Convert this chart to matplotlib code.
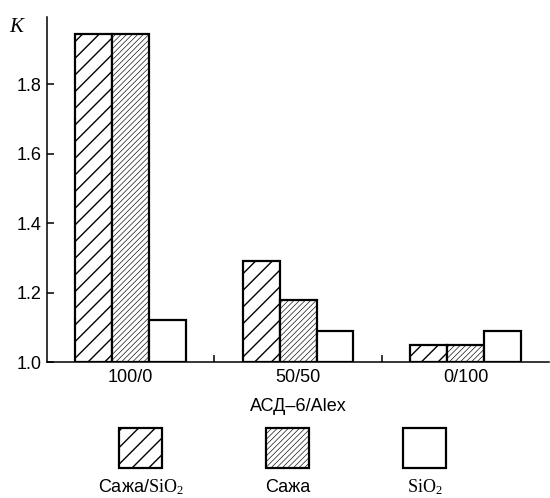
import matplotlib
matplotlib.use("Agg")
import matplotlib.pyplot as plt
from matplotlib.patches import Rectangle
import numpy as np

categories = ["100/0", "50/50", "0/100"]
series_names = ["Сажа/$\\mathrm{SiO}_2$", "Сажа", "$\\mathrm{SiO}_2$"]
soot_sio2 = [1.945, 1.29, 1.05]
soot = [1.945, 1.18, 1.05]
sio2 = [1.12, 1.09, 1.09]
yticks = [1.0, 1.2, 1.4, 1.6, 1.8]

plt.rcParams['font.family'] = ['Liberation Sans', 'DejaVu Sans']
plt.rcParams['mathtext.fontset'] = 'custom'
plt.rcParams['mathtext.rm'] = 'Liberation Serif'
plt.rcParams['mathtext.it'] = 'Liberation Serif:italic'

fig = plt.figure(figsize=(5.5, 4.98), dpi=100)
ax = fig.add_axes([47/550, 1-362/498, 1-47/550 - 0.001, (362-17)/498])

x = np.arange(len(categories))
w = 0.22
styles = [
    dict(hatch='//', hlw=1.0, hc='black'),
    dict(hatch='//////', hlw=0.45, hc='#333333'),
    dict(hatch=None, hlw=1.0, hc='black'),
]
series = [soot_sio2, soot, sio2]
for i, (vals, st) in enumerate(zip(series, styles)):
    with plt.rc_context({'hatch.linewidth': st['hlw'], 'hatch.color': st['hc']}):
        bars = ax.bar(x + (i - 1) * w, np.array(vals) - 1.0, bottom=1.0, width=w,
                      facecolor='white', edgecolor='black', linewidth=1.6,
                      hatch=st['hatch'], zorder=3)
        for b in bars:
            if hasattr(b, 'set_hatch_linewidth'):
                b.set_hatch_linewidth(st['hlw'])

ax.set_xlim(-0.5, 2.5)
ax.set_ylim(1.0, 1.994)
ax.spines['top'].set_visible(False)
ax.spines['right'].set_visible(False)
for s in ['left', 'bottom']:
    ax.spines[s].set_linewidth(1.1)
ax.set_yticks(yticks)
ax.set_yticklabels([f"{v:.1f}" for v in yticks], fontsize=13)
ax.tick_params(axis='y', direction='in', length=5, width=1.1, pad=4)
ax.set_xticks(x)
ax.set_xticklabels(categories, fontsize=13)
ax.set_xticks([0.5, 1.5], minor=True)
ax.tick_params(axis='x', which='major', length=0, pad=5)
ax.tick_params(axis='x', which='minor', direction='in', length=5, width=1.1)
ax.set_xlabel("АСД–6/Alex", fontsize=13, labelpad=9)

fig.text(18/550, 1-26/498, "$K$", fontsize=15, ha='center', va='center')

# legend
leg_x = [119, 266, 403]
for lx, st, lab in zip(leg_x, styles, series_names):
    with plt.rc_context({'hatch.linewidth': st['hlw'], 'hatch.color': st['hc']}):
        r = Rectangle((lx/550, 1-468/498), 43/550, 40/498, transform=fig.transFigure,
                      facecolor='white', edgecolor='black', linewidth=1.6,
                      hatch=st['hatch'])
        if hasattr(r, 'set_hatch_linewidth'):
            r.set_hatch_linewidth(st['hlw'])
        fig.add_artist(r)
    fig.text((lx + 21.5)/550, 1-487/498, lab, fontsize=13, ha='center', va='center')

fig.savefig("out.png", dpi=100)
